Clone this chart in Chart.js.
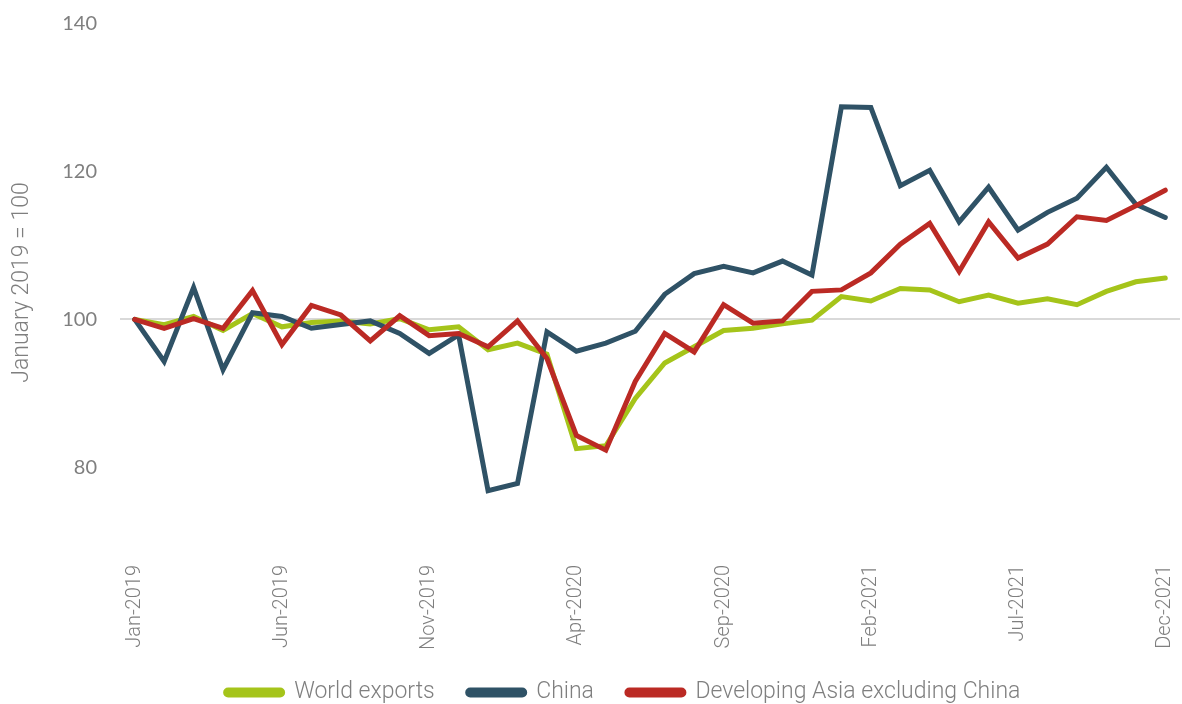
<!DOCTYPE html>
<html>
<head>
<meta charset="utf-8">
<script src="https://cdn.jsdelivr.net/npm/chart.js@4"></script>
<style>
  html, body { margin: 0; padding: 0; background: #ffffff; }
  #wrap { width: 1182px; height: 704px; position: relative; }
</style>
</head>
<body>
<div id="wrap"><canvas id="c"></canvas></div>
<script>
const months = [
  'Jan-2019','Feb-2019','Mar-2019','Apr-2019','May-2019','Jun-2019','Jul-2019','Aug-2019','Sep-2019','Oct-2019','Nov-2019','Dec-2019',
  'Jan-2020','Feb-2020','Mar-2020','Apr-2020','May-2020','Jun-2020','Jul-2020','Aug-2020','Sep-2020','Oct-2020','Nov-2020','Dec-2020',
  'Jan-2021','Feb-2021','Mar-2021','Apr-2021','May-2021','Jun-2021','Jul-2021','Aug-2021','Sep-2021','Oct-2021','Nov-2021','Dec-2021'
];
const worldExports = [
  100, 99.3, 100.4, 98.5, 100.8, 99.0, 99.6, 99.8, 99.4, 100.1, 98.6, 99.0,
  95.9, 96.8, 95.3, 82.5, 82.9, 89.3, 94.1, 96.3, 98.5, 98.8, 99.4, 99.9,
  103.1, 102.5, 104.2, 104.0, 102.4, 103.3, 102.2, 102.8, 102.0, 103.8, 105.1, 105.6
];
const china = [
  100, 94.3, 104.3, 93.2, 100.9, 100.4, 98.8, 99.3, 99.8, 98.1, 95.4, 97.9,
  76.8, 77.8, 98.3, 95.7, 96.8, 98.4, 103.4, 106.2, 107.2, 106.3, 107.9, 106.0,
  128.8, 128.7, 118.1, 120.2, 113.2, 117.9, 112.1, 114.5, 116.4, 120.6, 115.6, 113.8
];
const devAsia = [
  100, 98.8, 100.1, 98.8, 103.9, 96.6, 101.9, 100.6, 97.1, 100.5, 97.8, 98.1,
  96.3, 99.8, 94.7, 84.3, 82.3, 91.6, 98.1, 95.6, 102.0, 99.5, 99.8, 103.8,
  104.0, 106.3, 110.2, 113.0, 106.5, 113.2, 108.3, 110.2, 113.9, 113.4, 115.4, 117.5
];
const seriesNames = ['World exports', 'China', 'Developing Asia excluding China'];
const yTicks = [80, 100, 120, 140];
const yTitle = 'January 2019 = 100';

const gray = '#7f7f7f';

const legendShift = {
  id: 'legendShift',
  afterLayout(chart) {
    if (chart.legend) { chart.legend.left += 33; chart.legend.right += 33; }
  }
};

new Chart(document.getElementById('c'), {
  type: 'line',
  plugins: [legendShift],
  data: {
    labels: months,
    datasets: [
      { label: seriesNames[0], data: worldExports, borderColor: '#a5c41a', backgroundColor: '#a5c41a', order: 3 },
      { label: seriesNames[1], data: china, borderColor: '#2f5266', backgroundColor: '#2f5266', order: 2 },
      { label: seriesNames[2], data: devAsia, borderColor: '#bb2a24', backgroundColor: '#bb2a24', order: 1 }
    ]
  },
  options: {
    responsive: true,
    maintainAspectRatio: false,
    animation: false,
    devicePixelRatio: 1,
    layout: { padding: { top: 24, right: 2, left: 0, bottom: -10 } },
    elements: {
      line: { borderWidth: 5, tension: 0, fill: false, borderCapStyle: 'round' },
      point: { radius: 0, hoverRadius: 0 }
    },
    plugins: {
      tooltip: { enabled: false },
      legend: {
        position: 'bottom',
        labels: {
          sort: (a, b) => a.datasetIndex - b.datasetIndex,
          color: gray,
          font: { family: 'Roboto', size: 23, weight: '300' },
          boxWidth: 57,
          boxHeight: 5,
          useBorderRadius: true,
          borderRadius: 2.5,
          padding: 33
        }
      }
    },
    scales: {
      x: {
        type: 'category',
        offset: true,
        grid: { display: false, drawTicks: false },
        border: { display: false },
        ticks: {
          autoSkip: false,
          maxRotation: 90,
          minRotation: 90,
          padding: 24,
          color: gray,
          font: { family: 'Roboto', size: 20, weight: '300' },
          callback: function (v, i) { return i % 5 === 0 ? months[i] : ''; }
        },
        afterFit: function (s) { s.height = 107; s.paddingLeft = 0; s.paddingRight = 0; }
      },
      y: {
        min: 70,
        max: 140,
        afterBuildTicks: function (s) { s.ticks = yTicks.map(v => ({ value: v })); },
        grid: {
          drawTicks: false,
          lineWidth: 2,
          color: ctx => (ctx.tick && ctx.tick.value === 100) ? '#d9d9d9' : 'rgba(0,0,0,0)'
        },
        border: { display: false },
        ticks: {
          padding: 23,
          color: gray,
          font: { family: 'Lato', size: 20 }
        },
        title: {
          display: true,
          text: yTitle,
          color: gray,
          font: { family: 'Roboto', size: 23, weight: '300' },
          padding: { top: 8, bottom: 0 }
        },
        afterFit: function (s) { s.width = 120; s.paddingTop = 0; s.paddingBottom = 0; }
      }
    }
  }
});
</script>
</body>
</html>
